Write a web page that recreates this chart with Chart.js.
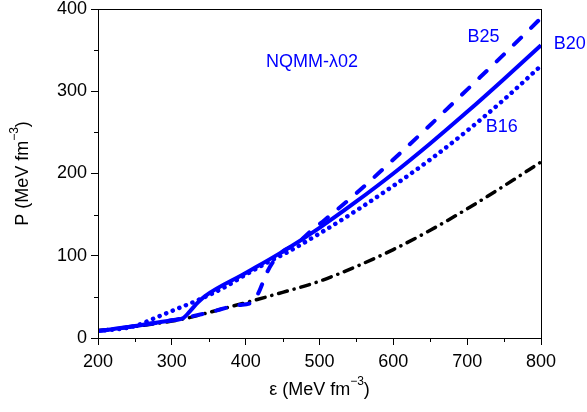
<!DOCTYPE html>
<html><head><meta charset="utf-8">
<script src="https://cdn.jsdelivr.net/npm/chart.js@4.4.1/dist/chart.umd.min.js"></script>
<style>html,body{margin:0;padding:0;background:#fff}#wrap{width:587px;height:412px;position:relative}</style>
</head><body><div id="wrap"><canvas id="c" width="587" height="412"></canvas></div>
<script>
// ---- data (energy density eps in MeV fm^-3, pressure P in MeV fm^-3) ----
const epsHadron = [200, 250, 300, 320, 350, 400, 450, 500, 550, 600, 650, 700, 750, 800];
const pHadron   = [9, 14, 20.5, 24, 31, 43, 55.5, 69, 87, 107.5, 131, 157, 185, 214];

const epsB20 = [200, 250, 300, 315, 325, 335, 345, 400, 450, 500, 550, 600, 650, 700, 750, 800];
const pB20   = [8.5, 14.5, 21.5, 24, 33, 43, 51, 79, 105, 134, 166, 200, 236.5, 275, 315, 356];

const epsB16 = [200, 240, 255, 275, 295, 310, 330, 350, 370, 400, 430, 460, 500, 550, 600, 650, 700, 750, 800];
const pB16   = [8.5, 12.5, 16, 23.5, 31, 36.5, 44, 52, 61, 77, 92, 106, 127, 155, 185, 217, 252, 290, 331];

const epsB25 = [200, 250, 300, 315, 350, 390, 410, 418, 428, 436, 450, 470, 487, 507, 550, 600, 650, 700, 750, 800];
const pB25   = [8.5, 14.5, 21.5, 24, 31, 40, 44, 56, 78, 91, 105, 115, 129, 143.5, 176, 217, 259, 302, 345, 389];

const xTickMajor = 100, yTickMajor = 100, minorStep = 50;
const textLabels = [
  {text: 'NQMM-\u03bb02', x: 490, y: 336},
  {text: 'B25', x: 722, y: 366},
  {text: 'B20', x: 839, y: 357},
  {text: 'B16', x: 747, y: 256}
];

const FONT = '"Liberation Sans", Arial, sans-serif';
const BLUE = '#0000ff';

function pts(xs, ys) { return xs.map((x, i) => ({x: x, y: ys[i]})); }

function drawParts(ctx, parts) {
  let w = 0;
  parts.forEach(p => { ctx.font = p.size + 'px ' + FONT; w += ctx.measureText(p.text).width; });
  let x = -w / 2;
  parts.forEach(p => {
    ctx.font = p.size + 'px ' + FONT;
    ctx.fillText(p.text, x, p.dy);
    x += ctx.measureText(p.text).width;
  });
}

const decorPlugin = {
  id: 'decor',
  afterDraw(chart) {
    const {ctx, chartArea: a, scales: {x, y}} = chart;
    ctx.save();
    ctx.strokeStyle = '#000';
    ctx.lineWidth = 1;
    ctx.strokeRect(Math.round(a.left) + 0.5, Math.round(a.top) + 0.5,
                   Math.round(a.right - a.left), Math.round(a.bottom - a.top));
    ctx.beginPath();
    for (let v = x.min + minorStep; v < x.max; v += xTickMajor) {
      const px = Math.round(x.getPixelForValue(v)) + 0.5;
      ctx.moveTo(px, a.bottom); ctx.lineTo(px, a.bottom + 4);
    }
    for (let v = y.min + minorStep; v < y.max; v += yTickMajor) {
      const py = Math.round(y.getPixelForValue(v)) + 0.5;
      ctx.moveTo(a.left, py); ctx.lineTo(a.left - 4, py);
    }
    ctx.stroke();

    ctx.fillStyle = '#000';
    ctx.textBaseline = 'middle';
    ctx.textAlign = 'left';
    ctx.save();
    ctx.translate((a.left + a.right) / 2, 390);
    drawParts(ctx, [{text: '\u03b5 (MeV fm', size: 18, dy: 0}, {text: '\u22123', size: 12, dy: -8}, {text: ')', size: 18, dy: 0}]);
    ctx.restore();
    ctx.save();
    ctx.translate(23, (a.top + a.bottom) / 2);
    ctx.rotate(-Math.PI / 2);
    drawParts(ctx, [{text: 'P (MeV fm', size: 18, dy: 0}, {text: '\u22123', size: 12, dy: -8}, {text: ')', size: 18, dy: 0}]);
    ctx.restore();

    ctx.fillStyle = BLUE;
    ctx.textAlign = 'center';
    ctx.font = '18px ' + FONT;
    textLabels.forEach(l => {
      ctx.fillText(l.text, x.getPixelForValue(l.x), y.getPixelForValue(l.y));
    });
    ctx.restore();
  }
};

const common = {showLine: true, pointRadius: 0, fill: false, cubicInterpolationMode: 'monotone', borderCapStyle: 'round'};

new Chart(document.getElementById('c'), {
  type: 'scatter',
  data: {
    datasets: [
      Object.assign({label: 'B20', data: pts(epsB20, pB20), borderColor: BLUE, borderWidth: 4}, common, {borderCapStyle: 'butt'}),
      Object.assign({label: 'B25', data: pts(epsB25, pB25), borderColor: BLUE, borderWidth: 4, borderDash: [10, 14]}, common),
      Object.assign({label: 'B16', data: pts(epsB16, pB16), borderColor: BLUE, borderWidth: 4.5, borderDash: [0.1, 7]}, common),
      Object.assign({label: 'hadron', data: pts(epsHadron, pHadron), borderColor: '#000', borderWidth: 3.5, borderDash: [9, 7, 0.1, 7]}, common)
    ]
  },
  options: {
    responsive: false,
    animation: false,
    devicePixelRatio: 1,
    layout: {padding: {top: 9, right: 46, left: 0, bottom: 0}},
    plugins: {legend: {display: false}, tooltip: {enabled: false}},
    scales: {
      x: {
        type: 'linear', min: 200, max: 800,
        ticks: {stepSize: xTickMajor, color: '#000', font: {family: FONT, size: 18}, padding: 6, maxRotation: 0},
        grid: {display: true, drawOnChartArea: false, tickLength: 7, tickColor: '#000', color: '#000'},
        border: {display: true, color: '#000', width: 1},
        afterFit(s) { s.height = 74; }
      },
      y: {
        type: 'linear', min: 0, max: 400,
        ticks: {stepSize: yTickMajor, color: '#000', font: {family: FONT, size: 18}, padding: 4},
        grid: {display: true, drawOnChartArea: false, tickLength: 7, tickColor: '#000', color: '#000'},
        border: {display: true, color: '#000', width: 1},
        afterFit(s) { s.width = 98; s.paddingTop = 0; s.paddingBottom = 0; }
      }
    }
  },
  plugins: [decorPlugin]
});
</script>
</body></html>
